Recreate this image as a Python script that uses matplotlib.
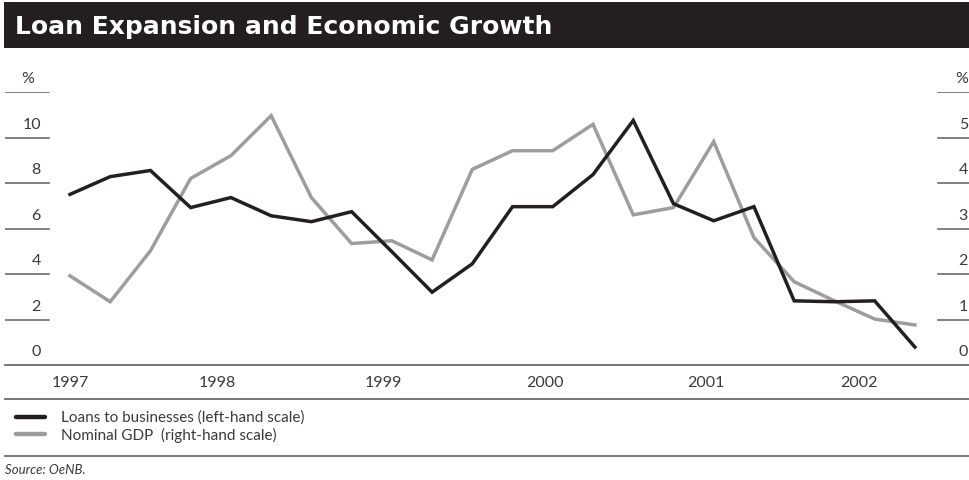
import numpy as np
import matplotlib.pyplot as plt
from matplotlib.patches import Rectangle
from matplotlib.lines import Line2D

# quarterly data, 1997 Q1 .. 2002 Q2
years = ['1997', '1998', '1999', '2000', '2001', '2002']
loans = [7.5, 8.28, 8.55, 6.92, 7.36, 6.56, 6.3, 6.74, 4.98, 3.2, 4.45, 6.96,
         6.96, 8.37, 10.75, 7.09, 6.34, 6.96, 2.82, 2.78, 2.82, 0.79]
gdp = [1.96, 1.39, 2.51, 4.1, 4.6, 5.48, 3.68, 2.67, 2.73, 2.31, 4.3, 4.71,
       4.71, 5.29, 3.3, 3.46, 4.91, 2.8, 1.83, 1.41, 1.01, 0.88]
left_ticks = [0, 2, 4, 6, 8, 10]
right_ticks = [0, 1, 2, 3, 4, 5]

black = '#231f20'
grey = '#9d9d9c'
txt = '#3a3a3a'
rule = '#6b6b6b'

W, H = 970, 481
fig = plt.figure(figsize=(W / 100, H / 100), dpi=100)
plt.rcParams['font.family'] = ['Lato', 'DejaVu Sans']


def fx(x):
    return x / W


def fy(y):
    return 1 - y / H


# title bar
fig.add_artist(Rectangle((fx(4), fy(49)), fx(966), 46 / H, transform=fig.transFigure,
                         facecolor=black, edgecolor='none'))
fig.text(fx(15), fy(27), 'Loan Expansion and Economic Growth', color='white',
         fontsize=18, fontweight='heavy', va='center', ha='left',
         family=['DejaVu Sans'])

# plot area: bottom at y=366 (0), top at y=93 (12 / 6)
ax = fig.add_axes([fx(5), fy(366), fx(965), (366 - 93) / H])
ax2 = ax.twinx()
x = np.arange(len(loans))
ax.set_xlim(-1.615, 22.37)
ax.set_ylim(0, 12)
ax2.set_ylim(0, 6)

ax2.plot(x, gdp, color=grey, lw=2.5, solid_joinstyle='miter', zorder=2)
ax.plot(x, loans, color=black, lw=2.5, solid_joinstyle='miter', zorder=3)
ax.set_zorder(ax2.get_zorder() + 1)
ax.patch.set_visible(False)

for a in (ax, ax2):
    for s in a.spines.values():
        s.set_visible(False)
    a.set_yticks([])
ax.spines['bottom'].set_visible(True)
ax.spines['bottom'].set_color(rule)
ax.spines['bottom'].set_linewidth(1.3)

ax.set_xticks(np.arange(len(years)) * 4 - np.array([0, 0.35, 0.2, 0.2, 0.2, 0.4]))
ax.set_xticklabels(years)
ax.tick_params(axis='x', length=0, pad=7, labelsize=11.5, labelcolor=txt)

# left scale: short rules with labels sitting above them
lw_l = 44 / 965
for v in left_ticks[1:] + [12]:
    ax.axhline(v, xmin=0, xmax=lw_l, color=rule, lw=1.2)
for v, lab in zip(left_ticks + [12], [str(t) for t in left_ticks] + ['%']):
    xx = 36 / 965 if lab != '%' else 29 / 965
    ax.text(xx, v + 0.3, lab, transform=ax.get_yaxis_transform(), ha='right',
            va='bottom', fontsize=11.5, color=txt)

# right scale
rw = 32 / 965
for v in right_ticks[1:] + [6]:
    ax2.axhline(v, xmin=1 - rw, xmax=1, color=rule, lw=1.2)
for v, lab in zip(right_ticks + [6], [str(t) for t in right_ticks] + ['%']):
    ax2.text(963 / 965, v + 0.15, lab, transform=ax2.get_yaxis_transform(),
             ha='right', va='bottom', fontsize=11.5, color=txt)

# rules below the chart
for yy in (400, 457):
    fig.add_artist(Line2D([fx(5), fx(970)], [fy(yy), fy(yy)], transform=fig.transFigure,
                          color=rule, lw=1.3))

# legend
for yy, c, lab in ((418, black, 'Loans to businesses (left-hand scale)'),
                   (435, grey, 'Nominal GDP  (right-hand scale)')):
    fig.add_artist(Line2D([fx(16), fx(45)], [fy(yy), fy(yy)], transform=fig.transFigure,
                          color=c, lw=3.2, solid_capstyle='round'))
    fig.text(fx(61), fy(yy), lab, fontsize=11, color=txt, va='center', ha='left')

fig.text(fx(5), fy(470), 'Source: OeNB.', fontsize=9.5, color=txt, style='italic',
         va='center', ha='left')

fig.savefig('out.png', dpi=100)
